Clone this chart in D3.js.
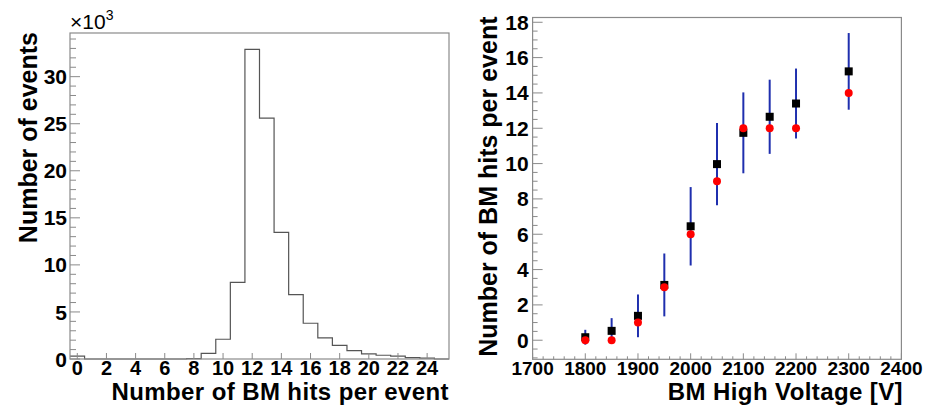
<!DOCTYPE html>
<html>
<head>
<meta charset="utf-8">
<script src="https://cdn.jsdelivr.net/npm/d3@7"></script>
<style>
  html, body { margin: 0; padding: 0; background: #fff; }
  svg { display: block; font-family: "Liberation Sans", Arial, Helvetica, sans-serif; }
</style>
</head>
<body>
<svg id="chart" width="927" height="405"></svg>
<script>
// ---------- Data ----------
// Left: histogram of BM hits per event (bin centres 0..25, counts)
const hitBins = [0,1,2,3,4,5,6,7,8,9,10,11,12,13,14,15,16,17,18,19,20,21,22,23,24,25];
const hitCounts = [300,0,0,0,0,0,0,0,50,600,2100,8150,32900,25600,13450,6850,3800,2250,1450,900,550,400,300,150,100,0];
const histXTicks = [0,2,4,6,8,10,12,14,16,18,20,22,24];
const histYTicks = [0,5000,10000,15000,20000,25000,30000];

// Right: mean BM hits vs high voltage
const voltages = [1800,1850,1900,1950,2000,2050,2100,2150,2200,2300];
const meanHits = [0.17,0.53,1.38,3.13,6.45,9.97,11.74,12.65,13.40,15.22];
const meanErr  = [0.42,0.72,1.21,1.78,2.22,2.33,2.29,2.10,1.98,2.17];
const modeHits = [0,0,1,3,6,9,12,12,12,14];
const hvXTicks = [1700,1800,1900,2000,2100,2200,2300,2400];
const hvYTicks = [0,2,4,6,8,10,12,14,16,18];

// ---------- Drawing ----------
const svg = d3.select("#chart");
const frameColor = "#8a8a8a";
const labelFont = 21, titleFont = 25;
const xTitleFont = 24, xTitleSpacing = 0.4, xTitleBase = 400, xLabelBase = 374;

// ===== Left panel =====
const L = {x0: 70, x1: 449, y0: 33, y1: 359};
const hx = d3.scaleLinear().domain([-0.5, 25.5]).range([L.x0, L.x1]);
const hy = d3.scaleLinear().domain([0, 34640]).range([L.y1, L.y0]);

// histogram step outline
const stepPts = [];
hitBins.forEach((b, i) => {
  stepPts.push([hx(b - 0.5), hy(hitCounts[i])]);
  stepPts.push([hx(b + 0.5), hy(hitCounts[i])]);
});
svg.append("path")
  .attr("d", d3.line()(stepPts))
  .attr("fill", "none").attr("stroke", "#555").attr("stroke-width", 1.2);

// frame
svg.append("rect").attr("x", L.x0).attr("y", L.y0)
  .attr("width", L.x1 - L.x0).attr("height", L.y1 - L.y0)
  .attr("fill", "none").attr("stroke", frameColor).attr("stroke-width", 1.2);

// y ticks (inside), major every 5k, minor every 1k
const lyMinor = d3.range(0, 34001, 1000);
svg.append("g").selectAll("line").data(lyMinor).join("line")
  .attr("x1", L.x0).attr("x2", d => L.x0 + (d % 5000 === 0 ? 10 : 6))
  .attr("y1", d => hy(d)).attr("y2", d => hy(d))
  .attr("stroke", frameColor).attr("stroke-width", 1);
svg.append("g").selectAll("text").data(histYTicks).join("text")
  .attr("x", L.x0 - 3).attr("y", d => hy(d)).attr("dy", "0.36em")
  .attr("text-anchor", "end").attr("font-size", labelFont).attr("font-weight", "bold")
  .text(d => d / 1000);

// x ticks (inside bottom)
svg.append("g").selectAll("line").data(histXTicks).join("line")
  .attr("x1", d => hx(d)).attr("x2", d => hx(d))
  .attr("y1", L.y1).attr("y2", L.y1 - 6)
  .attr("stroke", frameColor).attr("stroke-width", 1);
svg.append("g").selectAll("text").data(histXTicks).join("text")
  .attr("x", d => hx(d)).attr("y", xLabelBase + 1)
  .attr("text-anchor", "middle").attr("font-size", 20).attr("font-weight", "bold")
  .text(d => d);

// exponent
const ex = svg.append("text").attr("x", L.x0).attr("y", 29).attr("font-size", 21);
ex.append("tspan").text("\u00d710");
ex.append("tspan").attr("font-size", 14).attr("dy", -9).text("3");

// titles
svg.append("text").attr("x", L.x1).attr("y", xTitleBase)
  .attr("text-anchor", "end").attr("font-size", xTitleFont).attr("font-weight", "bold")
  .attr("letter-spacing", xTitleSpacing)
  .text("Number of BM hits per event");
svg.append("text").attr("transform", `translate(37,${L.y0 - 1}) rotate(-90)`)
  .attr("text-anchor", "end").attr("font-size", titleFont).attr("font-weight", "bold")
  .text("Number of events");

// ===== Right panel =====
const R = {x0: 532.6, x1: 901.4, y0: 17.5, y1: 359.3};
const vx = d3.scaleLinear().domain([1700, 2400]).range([R.x0, R.x1]);
const vy = d3.scaleLinear().domain([-1.08, 18.27]).range([R.y1, R.y0]);

svg.append("rect").attr("x", R.x0).attr("y", R.y0)
  .attr("width", R.x1 - R.x0).attr("height", R.y1 - R.y0)
  .attr("fill", "none").attr("stroke", frameColor).attr("stroke-width", 1.2);

// y ticks: major every 2, minor every 0.5
const ryMinor = d3.range(-1, 18.01, 0.5);
svg.append("g").selectAll("line").data(ryMinor).join("line")
  .attr("x1", R.x0).attr("x2", d => R.x0 + (Math.abs(d % 2) < 1e-6 ? 10 : 5))
  .attr("y1", d => vy(d)).attr("y2", d => vy(d))
  .attr("stroke", frameColor).attr("stroke-width", 1);
svg.append("g").selectAll("text").data(hvYTicks).join("text")
  .attr("x", R.x0 - 4).attr("y", d => vy(d)).attr("dy", "0.36em")
  .attr("text-anchor", "end").attr("font-size", labelFont).attr("font-weight", "bold")
  .text(d => d);

// x ticks: major every 100, minor every 20
const rxMinor = d3.range(1700, 2401, 20);
svg.append("g").selectAll("line").data(rxMinor).join("line")
  .attr("x1", d => vx(d)).attr("x2", d => vx(d))
  .attr("y1", R.y1).attr("y2", d => R.y1 - (d % 100 === 0 ? 6 : 3))
  .attr("stroke", frameColor).attr("stroke-width", 1);
svg.append("g").selectAll("text").data(hvXTicks).join("text")
  .attr("x", d => vx(d)).attr("y", xLabelBase + 1)
  .attr("text-anchor", "middle").attr("font-size", 19).attr("font-weight", "bold")
  .text(d => d);

// error bars
svg.append("g").selectAll("line").data(voltages).join("line")
  .attr("x1", d => vx(d)).attr("x2", d => vx(d))
  .attr("y1", (d, i) => vy(meanHits[i] - meanErr[i]))
  .attr("y2", (d, i) => vy(meanHits[i] + meanErr[i]))
  .attr("stroke", "#1f2fae").attr("stroke-width", 2);

// black squares (mean)
svg.append("g").selectAll("rect").data(voltages).join("rect")
  .attr("x", d => vx(d) - 4).attr("y", (d, i) => vy(meanHits[i]) - 4)
  .attr("width", 8).attr("height", 8).attr("fill", "#000");

// red circles
svg.append("g").selectAll("circle").data(voltages).join("circle")
  .attr("cx", d => vx(d)).attr("cy", (d, i) => vy(modeHits[i]))
  .attr("r", 4).attr("fill", "#ff0000");

// titles
svg.append("text").attr("x", 903).attr("y", xTitleBase)
  .attr("text-anchor", "end").attr("font-size", xTitleFont).attr("font-weight", "bold")
  .attr("letter-spacing", xTitleSpacing)
  .text("BM High Voltage [V]");
svg.append("text").attr("transform", `translate(497,${R.y0 - 1}) rotate(-90)`)
  .attr("text-anchor", "end").attr("font-size", titleFont).attr("font-weight", "bold")
  .text("Number of BM hits per event");
</script>
</body>
</html>
